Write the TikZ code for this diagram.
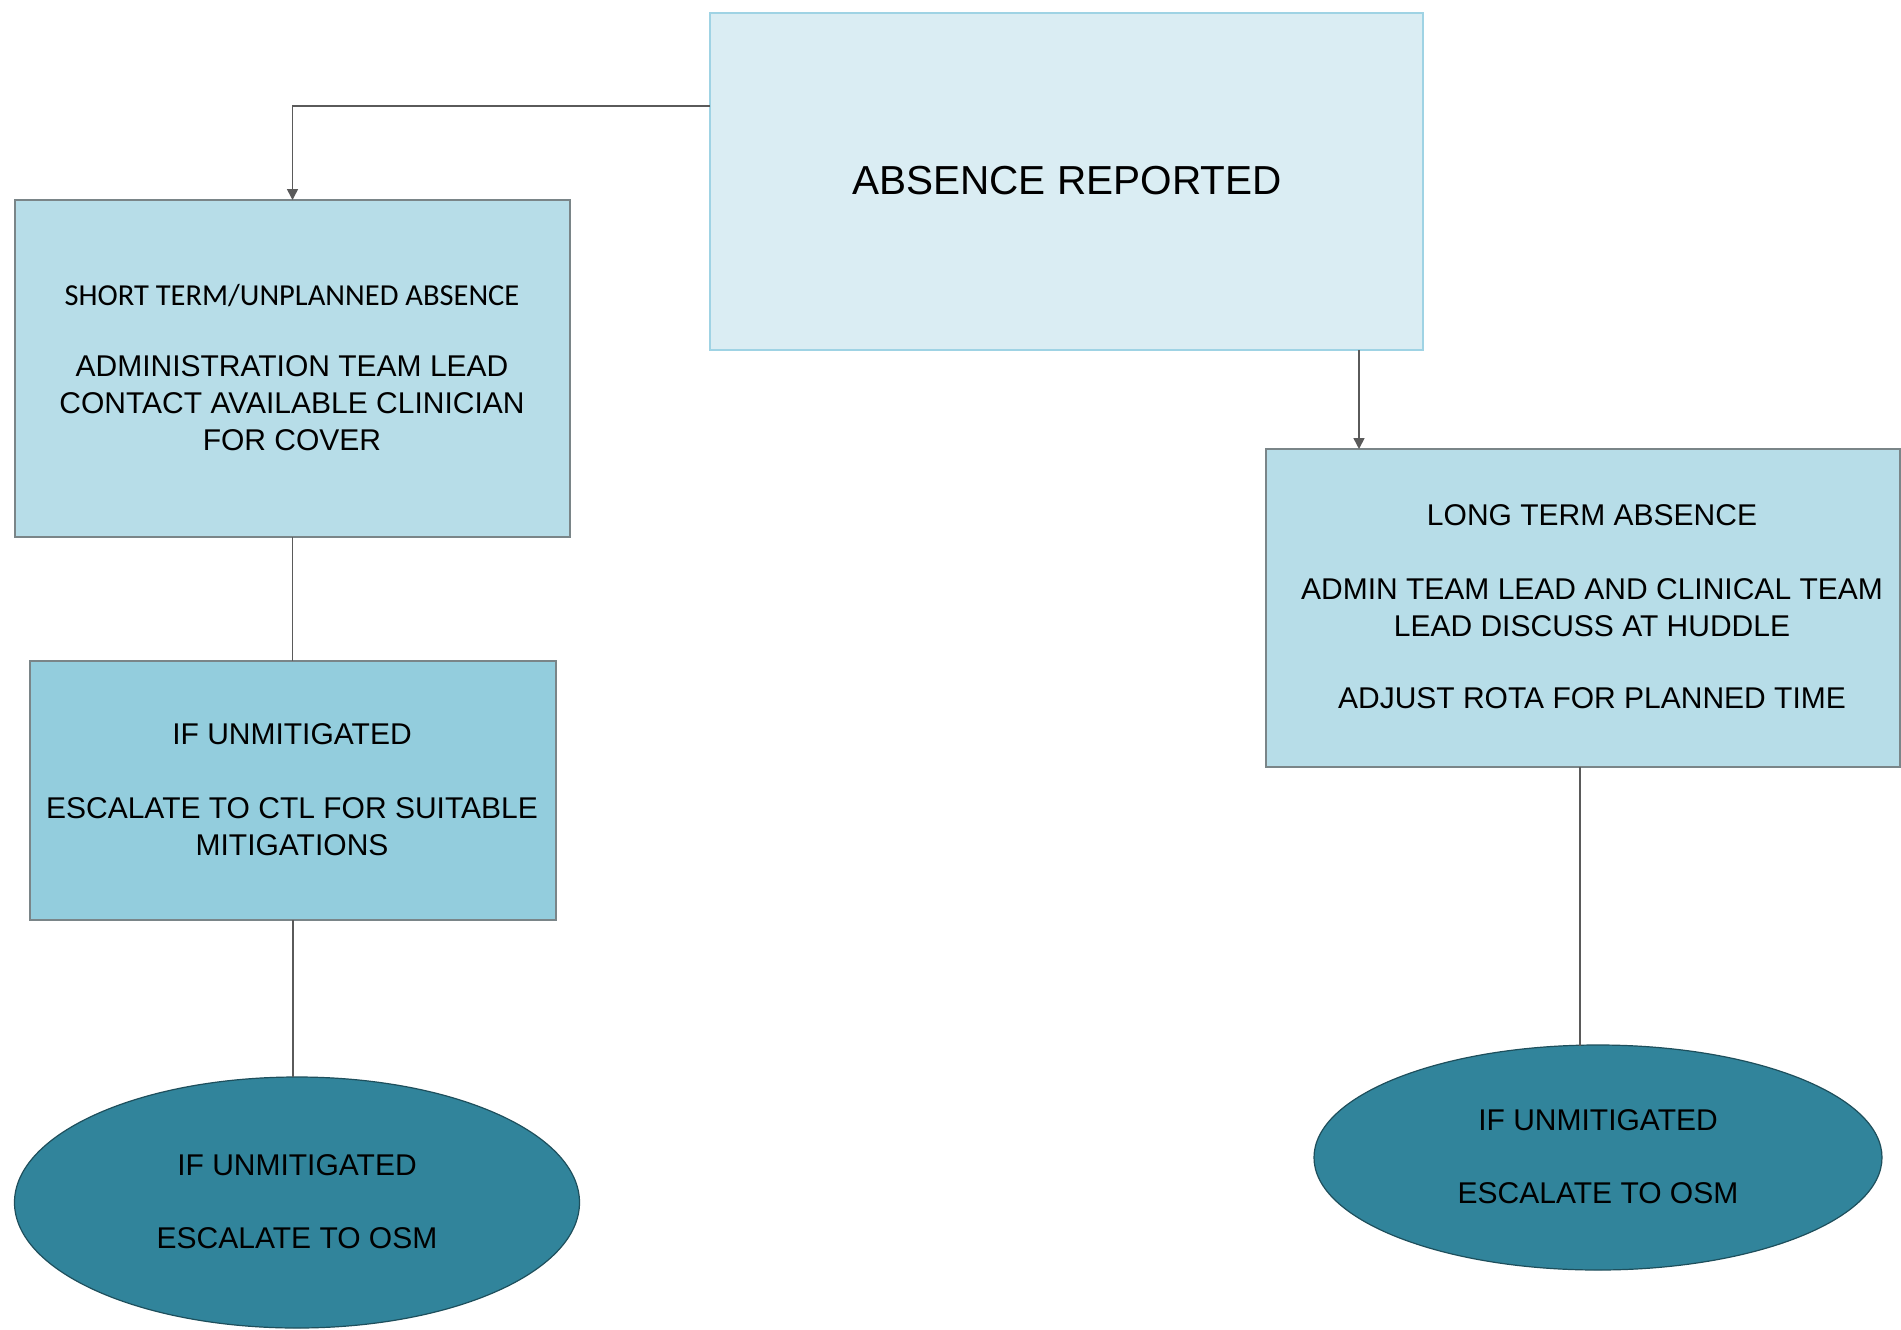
\documentclass[tikz,border=0pt]{standalone}
\usepackage{fontspec}
\setmainfont{Liberation Sans}
\newfontfamily\calibfont{Carlito}
\usetikzlibrary{shapes.geometric,arrows.meta}
\definecolor{topfill}{HTML}{DAEDF3}
\definecolor{topdraw}{HTML}{9FD3E4}
\definecolor{boxfill}{HTML}{B7DDE8}
\definecolor{midfill}{HTML}{93CDDD}
\definecolor{boxdraw}{HTML}{7A8588}
\definecolor{ellfill}{HTML}{31849B}
\definecolor{elldraw}{HTML}{1E4F5C}
\definecolor{linecol}{HTML}{5A5A5A}
\tikzset{
  shapebox/.style={rectangle,inner sep=0pt,outer sep=0pt,line width=1.5pt},
  ellbox/.style={ellipse,inner sep=0pt,outer sep=0pt,fill=ellfill,draw=elldraw,line width=1.2pt},
  txt/.style={align=center,inner sep=0pt,font=\fontsize{30}{37}\selectfont},
  conn/.style={draw=linecol,line width=1.6pt},
  arr/.style={-{Triangle[length=11pt,width=11pt]}}
}
\begin{document}
\begin{tikzpicture}[x=1pt,y=-1pt]
\useasboundingbox (0,0) rectangle (1901,1330);
\fill[white] (0,0) rectangle (1901,1330);

% shapes
\node[shapebox,fill=topfill,draw=topdraw,minimum width=713pt,minimum height=337pt] (top) at (1066.5,181.5) {};
\node[shapebox,fill=boxfill,draw=boxdraw,minimum width=555pt,minimum height=337pt] (short) at (292.5,368.5) {};
\node[shapebox,fill=midfill,draw=boxdraw,minimum width=526pt,minimum height=259pt] (mid) at (293,790.5) {};
\node[shapebox,fill=boxfill,draw=boxdraw,minimum width=634pt,minimum height=318pt] (long) at (1583,608) {};
\node[ellbox,minimum width=565pt,minimum height=251pt] (ellL) at (297,1202.5) {};
\node[ellbox,minimum width=568pt,minimum height=225pt] (ellR) at (1598,1157.5) {};

% texts
\node[txt,font=\fontsize{40.5}{48}\selectfont] (ttop) at (1067,181) {ABSENCE REPORTED};
\node[txt,font=\calibfont\fontsize{30.5}{36}\selectfont] (tshort1) at (292,296) {SHORT TERM/UNPLANNED ABSENCE};
\node[txt] (tshort2) at (292,403) {ADMINISTRATION TEAM LEAD\\CONTACT AVAILABLE CLINICIAN\\FOR COVER};
\node[txt] (tmid) at (292,789.5) {IF UNMITIGATED\\[37pt]ESCALATE TO CTL FOR SUITABLE\\MITIGATIONS};
\node[txt] (tlong) at (1592,606.5) {LONG TERM ABSENCE\\[37pt]ADMIN TEAM LEAD AND CLINICAL TEAM\\LEAD DISCUSS AT HUDDLE\\[35pt]ADJUST ROTA FOR PLANNED TIME};
\node[txt] (tellL) at (297,1201.5) {IF UNMITIGATED\\[36pt]ESCALATE TO OSM};
\node[txt] (tellR) at (1598,1156.5) {IF UNMITIGATED\\[36pt]ESCALATE TO OSM};

% connectors
\draw[conn,arr] ([yshift=-93pt]top.north west) -| (short.north);
\draw[conn,arr] ([xshift=292.5pt]top.south) coordinate (a2) -- (long.north -| a2);
\draw[conn] (short.south) -- (short.south |- mid.north);
\draw[conn] (mid.south) -- (mid.south |- ellL.north);
\draw[conn] ([xshift=-3pt]long.south) coordinate (a5) -- ([yshift=-1pt]ellR.north -| a5);
\end{tikzpicture}
\end{document}
